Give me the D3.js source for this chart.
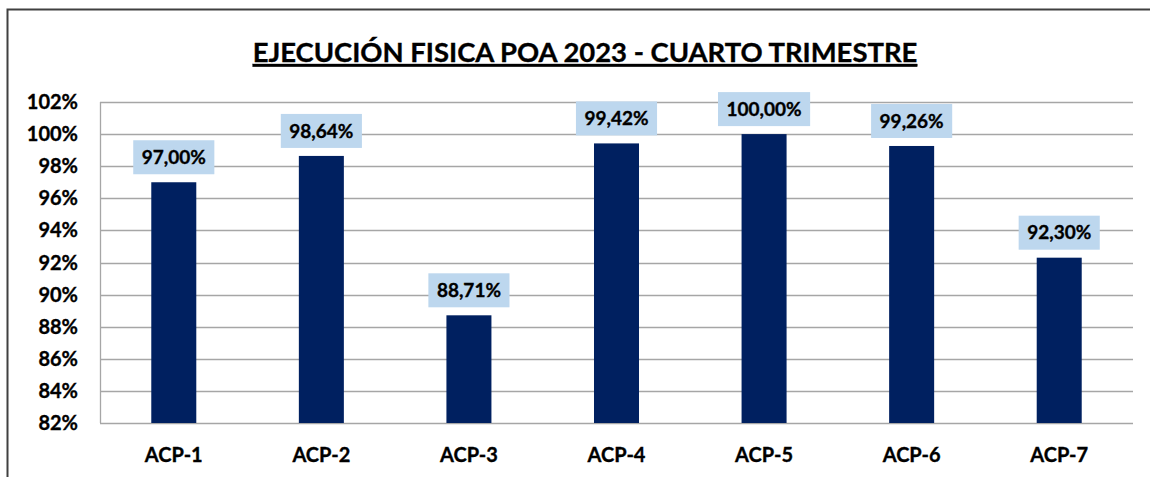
<!DOCTYPE html>
<html>
<head>
<meta charset="utf-8">
<script src="https://cdn.jsdelivr.net/npm/d3@7"></script>
<style>
  body { margin: 0; background: #fff; }
  text { font-family: Lato, "Open Sans", sans-serif; font-weight: bold; fill: #000; stroke: #000; stroke-width: 0.35px; }
</style>
</head>
<body>
<div id="chart"></div>
<script>
// chart data
var categories = ["ACP-1", "ACP-2", "ACP-3", "ACP-4", "ACP-5", "ACP-6", "ACP-7"];
var values = [97.00, 98.64, 88.71, 99.42, 100.00, 99.26, 92.30];
var yTicks = [82, 84, 86, 88, 90, 92, 94, 96, 98, 100, 102];
var title = "EJECUCIÓN FISICA POA 2023 - CUARTO TRIMESTRE";

var W = 1150, H = 477;
var margin = {top: 102, right: 17, bottom: 54, left: 100};
var width = W - margin.left - margin.right;
var height = H - margin.top - margin.bottom;

var svg = d3.select("#chart").append("svg")
    .attr("width", W)
    .attr("height", H);

// outer frame (cut off at right and bottom like the picture)
svg.append("path")
    .attr("d", "M7.5," + H + " V9.5 H" + W)
    .attr("fill", "none")
    .attr("stroke", "#404040")
    .attr("stroke-width", 2);

// title
var t = svg.append("text")
    .attr("x", 585)
    .attr("y", 62)
    .attr("text-anchor", "middle")
    .style("font-size", "26px")
    .style("text-decoration", "underline")
    .text(title);
var tw = t.node().getComputedTextLength();
t.style("font-size", (26 * 665 / tw) + "px");

var g = svg.append("g")
    .attr("transform", "translate(" + margin.left + "," + margin.top + ")");

var x = d3.scaleBand().domain(categories).range([0, width]).paddingInner(0.695).paddingOuter(0.3475);
var y = d3.scaleLinear().domain([82, 102]).range([height, 0]);

// gridlines
g.selectAll(".grid").data(yTicks).enter().append("line")
    .attr("class", "grid")
    .attr("x1", 0).attr("x2", width)
    .attr("y1", function(d) { return Math.round(y(d)) + 0.5; })
    .attr("y2", function(d) { return Math.round(y(d)) + 0.5; })
    .attr("stroke", "#a6a6a6")
    .attr("stroke-width", 1.3);

// left axis line
g.append("line")
    .attr("x1", 0.5).attr("x2", 0.5)
    .attr("y1", 0).attr("y2", height)
    .attr("stroke", "#a6a6a6")
    .attr("stroke-width", 1.3);

// y tick labels
g.selectAll(".ylab").data(yTicks).enter().append("text")
    .attr("class", "ylab")
    .attr("x", -22)
    .attr("y", function(d) { return y(d); })
    .attr("dy", "0.35em")
    .attr("text-anchor", "end")
    .style("font-size", "20px")
    .text(function(d) { return d + "%"; });

// bars
g.selectAll(".bar").data(values).enter().append("rect")
    .attr("class", "bar")
    .attr("x", function(d, i) { return x(categories[i]); })
    .attr("y", function(d) { return y(d); })
    .attr("width", x.bandwidth())
    .attr("height", function(d) { return height - y(d); })
    .attr("fill", "#002060");

// x labels
g.selectAll(".xlab").data(categories).enter().append("text")
    .attr("class", "xlab")
    .attr("x", function(d) { return x(d) + x.bandwidth() / 2; })
    .attr("y", height + 32)
    .attr("dy", "0.35em")
    .attr("text-anchor", "middle")
    .style("font-size", "20px")
    .text(function(d) { return d; });

// value labels with boxes
var fmt = function(v) { return v.toFixed(2).replace(".", ",") + "%"; };
var lab = g.selectAll(".vlab").data(values).enter().append("g")
    .attr("class", "vlab")
    .attr("transform", function(d, i) {
        return "translate(" + (x(categories[i]) + x.bandwidth() / 2) + "," + (y(d) - 25) + ")";
    });
lab.append("rect").attr("fill", "#bdd7ee");
lab.append("text")
    .attr("text-anchor", "middle")
    .attr("dy", "0.35em")
    .style("font-size", "19px")
    .text(fmt);
lab.each(function() {
    var w = d3.select(this).select("text").node().getComputedTextLength() + 17;
    d3.select(this).select("rect")
        .attr("x", -w / 2).attr("y", -17)
        .attr("width", w).attr("height", 34);
});
</script>
</body>
</html>
